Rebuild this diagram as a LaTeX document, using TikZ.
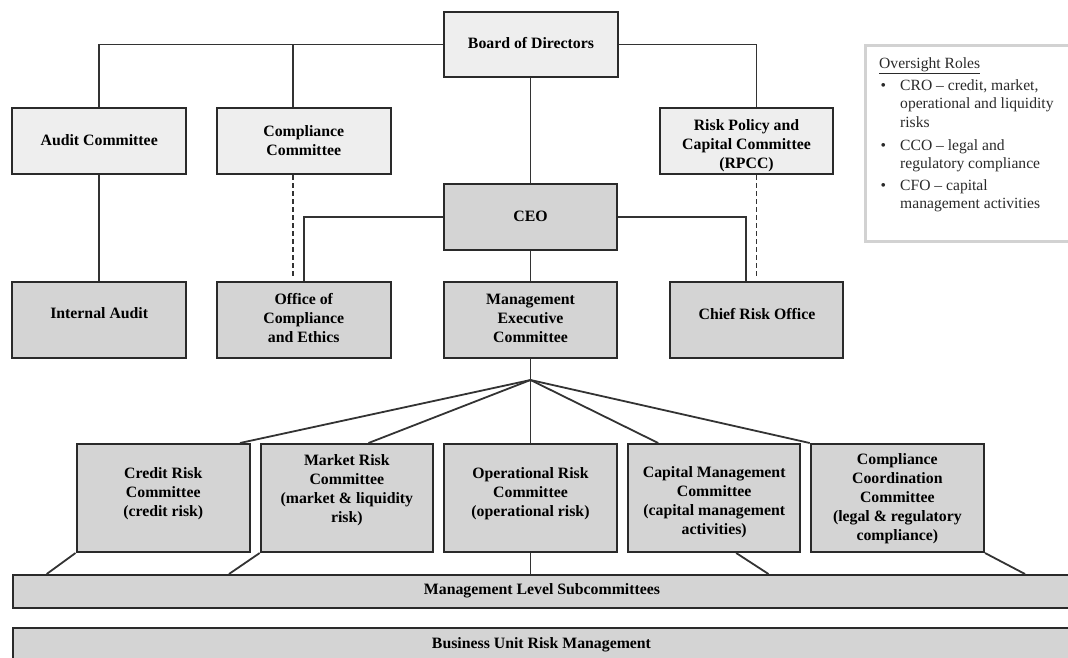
\documentclass[tikz,border=0pt]{standalone}
\usepackage{fontspec}
\setmainfont{Liberation Serif}
\definecolor{fillA}{HTML}{EEEEEE}
\definecolor{fillB}{HTML}{D4D4D4}
\definecolor{edgec}{HTML}{2A2A2A}
\definecolor{connc}{HTML}{333333}
\definecolor{legbord}{HTML}{D2D2D2}
\definecolor{legtext}{HTML}{2A2A2A}
\begin{document}
\begin{tikzpicture}[x=1pt,y=-1pt,
  box/.style={draw=edgec,line width=2pt,inner sep=0pt,rectangle},
  light/.style={box,fill=fillA},
  dark/.style={box,fill=fillB},
  lbl/.style={font=\fontsize{15.8}{19}\selectfont\bfseries,align=center,inner sep=0pt},
  legtxt/.style={font=\fontsize{15.6}{18.5}\selectfont,text=legtext,inner sep=0pt,anchor=base west},
  link/.style={draw=connc,line width=1.8pt},
  dlink/.style={link,dash pattern=on 5pt off 3pt}
]
\useasboundingbox (0,0) rectangle (1068,657);
\clip (0,0) rectangle (1068,657);

% top row
\node[light,minimum width=174pt,minimum height=65pt] (bod) at (531,44.5) {};
\node[light,minimum width=173.6pt,minimum height=66pt] (ac) at (99.2,141) {};
\node[light,minimum width=173.5pt,minimum height=66pt] (cc) at (303.75,141) {};
\node[light,minimum width=173pt,minimum height=66pt] (rp) at (746.5,141) {};
% CEO
\node[dark,minimum width=173pt,minimum height=66pt] (ceo) at (530.5,217) {};
% middle row
\node[dark,minimum width=173.6pt,minimum height=76pt] (ia) at (99.2,320) {};
\node[dark,minimum width=173.5pt,minimum height=76pt] (oc) at (303.75,320) {};
\node[dark,minimum width=173pt,minimum height=76pt] (mec) at (530.5,320) {};
\node[dark,minimum width=173pt,minimum height=76pt] (cro) at (756.5,320) {};
% committees
\node[dark,minimum width=173.5pt,minimum height=108pt] (crc) at (163.25,498) {};
\node[dark,minimum width=172.3pt,minimum height=108pt] (mrc) at (346.85,498) {};
\node[dark,minimum width=173pt,minimum height=108pt] (orc) at (530.5,498) {};
\node[dark,minimum width=172.4pt,minimum height=108pt] (cmc) at (714.2,498) {};
\node[dark,minimum width=173.3pt,minimum height=108pt] (ccc) at (897.35,498) {};
% bars
\node[dark,minimum width=1073pt,minimum height=33pt,anchor=north west] (mls) at (12,574) {};
\node[dark,minimum width=1073pt,minimum height=45pt,anchor=north west] (bur) at (12,627) {};
% legend
\node[draw=legbord,line width=2.5pt,fill=white,inner sep=0pt,minimum width=222pt,minimum height=196pt,anchor=north west] (leg) at (864,44) {};

% labels
\node[lbl] (bodt) at (531,43) {Board of Directors};
\node[lbl] (act) at (99.2,140) {Audit Committee};
\node[lbl] (cct) at (303.75,140.5) {Compliance\\Committee};
\node[lbl] (rpt) at (746.5,145.5) {Risk Policy and\\Capital Committee\\(RPCC)};
\node[lbl] (ceot) at (530.5,216) {CEO};
\node[lbl] (iat) at (99.2,313.5) {Internal Audit};
\node[lbl] (oct) at (303.75,318) {Office of\\Compliance\\and Ethics};
\node[lbl] (mect) at (530.5,318) {Management\\Executive\\Committee};
\node[lbl] (crot) at (757,314) {Chief Risk Office};
\node[lbl] (crct) at (163.25,493.5) {Credit Risk\\Committee\\(credit risk)};
\node[lbl] (mrct) at (346.85,490) {Market Risk\\Committee\\(market \& liquidity\\risk)};
\node[lbl] (orct) at (530.5,493.5) {Operational Risk\\Committee\\(operational risk)};
\node[lbl] (cmct) at (714.2,502.5) {Capital Management\\Committee\\(capital management\\activities)};
\node[lbl] (ccct) at (897.35,499) {Compliance\\Coordination\\Committee\\(legal \& regulatory\\compliance)};
\node[lbl] (mlst) at (542,590.5) {Management Level Subcommittees};
\node[lbl] (burt) at (541.5,645) {Business Unit Risk Management};

% legend text
\node[legtxt] (legh) at (879,68) {\underline{Oversight Roles}};
\node[legtxt] (bu1) at (880.5,90) {\textbullet};
\node[legtxt] (l1a) at (900,90) {CRO – credit, market,};
\node[legtxt] (l1b) at (900,108.5) {operational and liquidity};
\node[legtxt] (l1c) at (900,127) {risks};
\node[legtxt] (bu2) at (880.5,150) {\textbullet};
\node[legtxt] (l2a) at (900,150) {CCO – legal and};
\node[legtxt] (l2b) at (900,168.5) {regulatory compliance};
\node[legtxt] (bu3) at (880.5,190) {\textbullet};
\node[legtxt] (l3a) at (900,190) {CFO – capital};
\node[legtxt] (l3b) at (900,208.5) {management activities};

% free ends of dashed links
\coordinate (d1) at (293,277);
\coordinate (d2) at (756.5,277);
\coordinate (fan) at (530.5,380);

% connectors
\draw[link] (bod.west) -| (ac.north);
\draw[link] ([xshift=-10.75pt]cc.north) -- ([xshift=-10.75pt]cc.north |- bod.west);
\draw[link] (bod.east) -| ([xshift=10pt]rp.north);
\draw[link] ([xshift=-0.5pt]bod.south) -- (ceo.north);
\draw[link] (ac.south) -- (ia.north);
\draw[dlink] ([xshift=-10.75pt]cc.south) -- (d1);
\draw[dlink] ([xshift=10pt]rp.south) -- (d2);
\draw[link] (ceo.west) -| (oc.north);
\draw[link] (ceo.east) -| ([xshift=-10.5pt]cro.north);
\draw[link] (ceo.south) -- (mec.north);
\draw[link] (mec.south) -- (fan) -- (orc.north);
\draw[link] (fan) -- ([xshift=-11pt]crc.north east);
\draw[link] (fan) -- ([xshift=21.65pt]mrc.north);
\draw[link] (fan) -- ([xshift=-56pt]cmc.north);
\draw[link] (fan) -- (ccc.north west);
\draw[link] (crc.south west) -- (46.7,0 |- mls.north);
\draw[link] (mrc.south west) -- (229,0 |- mls.north);
\draw[link] (orc.south) -- (orc.south |- mls.north);
\draw[link] ([xshift=22pt]cmc.south) -- (768.5,0 |- mls.north);
\draw[link] (ccc.south east) -- (1025,0 |- mls.north);
\end{tikzpicture}
\end{document}
